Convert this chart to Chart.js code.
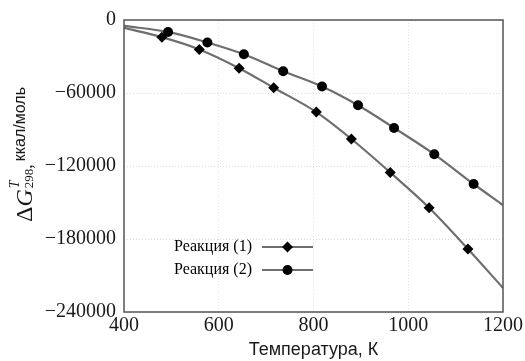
<!DOCTYPE html>
<html>
<head>
<meta charset="utf-8">
<script src="https://cdn.jsdelivr.net/npm/chart.js@4/dist/chart.umd.min.js"></script>
<style>
  html, body { margin: 0; padding: 0; background: #fff; }
  #wrap { width: 525px; height: 361px; position: relative; }
</style>
</head>
<body>
<div id="wrap"><canvas id="c"></canvas></div>
<script>
// Gibbs energy change vs temperature for two reactions
const temps1 = [400, 480, 559, 643, 716, 806, 880, 962, 1044, 1126, 1200];
const dG1    = [-6500, -14100, -24200, -39600, -55700, -75700, -97800, -125300, -154300, -188200, -220200];
const temps2 = [400, 493, 576, 653, 736, 818, 894, 970, 1055, 1138, 1200];
const dG2    = [-4900, -9800, -18500, -28200, -42100, -54700, -70100, -88700, -110400, -134800, -152100];
const xTicks = [400, 600, 800, 1000, 1200];
const yTicks = [0, -60000, -120000, -180000, -240000];
const seriesLabels = ['Реакция (1)', 'Реакция (2)'];
const xTitle = 'Температура, К';
const yUnits = 'ккал/моль';

const LINE = '#6e6e6e';
const INK = '#1a1a1a';
const SERIF = '"Liberation Serif", "DejaVu Serif", serif';
const SANS = '"Liberation Sans", Arial, sans-serif';

function pairs(xs, ys) { return xs.map((x, i) => ({ x: x, y: ys[i] })); }
// endpoints carry the curve only, no marker
function radii(n, r) { return Array.from({ length: n }, (_, i) => (i === 0 || i === n - 1) ? 0 : r); }
function fmt(v) { return v < 0 ? '\u2212' + Math.abs(v) : String(v); }

const framePlugin = {
  id: 'frameAndLabels',
  afterDraw(chart) {
    const ctx = chart.ctx;
    const a = chart.chartArea;
    ctx.save();
    // plot frame
    ctx.strokeStyle = '#555';
    ctx.lineWidth = 1.5;
    ctx.strokeRect(a.left, a.top, a.right - a.left, a.bottom - a.top);

    // legend inside the plot
    const rows = [247, 270];
    chart.data.datasets.forEach((ds, i) => {
      const y = rows[i];
      ctx.fillStyle = '#000';
      ctx.font = '16px ' + SERIF;
      ctx.textAlign = 'left';
      ctx.textBaseline = 'middle';
      ctx.fillText(ds.label, 174, y);
      ctx.strokeStyle = LINE;
      ctx.lineWidth = 2.2;
      ctx.beginPath();
      ctx.moveTo(262, y); ctx.lineTo(313, y);
      ctx.stroke();
      ctx.fillStyle = '#000';
      ctx.beginPath();
      const cx = 287.5, r = ds.pointRadius[1];
      if (ds.pointStyle === 'rectRot') {
        ctx.moveTo(cx - r, y); ctx.lineTo(cx, y - r); ctx.lineTo(cx + r, y); ctx.lineTo(cx, y + r);
        ctx.closePath();
      } else {
        ctx.arc(cx, y, r, 0, Math.PI * 2);
      }
      ctx.fill();
    });

    // y-axis title: ΔG^T_298, ккал/моль (rotated)
    ctx.translate(32, 222);
    ctx.rotate(-Math.PI / 2);
    ctx.textAlign = 'left';
    ctx.textBaseline = 'alphabetic';
    ctx.fillStyle = INK;
    let x = 0;
    ctx.font = '24px ' + SERIF;
    ctx.fillText('\u0394', x, 0); x += ctx.measureText('\u0394').width;
    ctx.font = 'italic 24px ' + SERIF;
    ctx.fillText('G', x, 0); x += ctx.measureText('G').width + 1;
    ctx.font = 'italic 14px ' + SERIF;
    ctx.fillText('T', x, -13);
    ctx.font = '13px ' + SERIF;
    ctx.fillText('298', x, 1); x += ctx.measureText('298').width;
    ctx.font = '18px ' + SERIF;
    ctx.fillText(',', x, 0); x += ctx.measureText(',').width + 3;
    ctx.font = '16px ' + SANS;
    ctx.fillText(yUnits, x, -7);
    ctx.restore();
  }
};

new Chart(document.getElementById('c'), {
  type: 'line',
  data: {
    datasets: [
      {
        label: seriesLabels[0],
        data: pairs(temps1, dG1),
        borderColor: LINE,
        borderWidth: 2.2,
        pointStyle: 'rectRot',
        pointRadius: radii(temps1.length, 5.5),
        pointBackgroundColor: '#000',
        pointBorderWidth: 0,
        cubicInterpolationMode: 'monotone',
        fill: false
      },
      {
        label: seriesLabels[1],
        data: pairs(temps2, dG2),
        borderColor: LINE,
        borderWidth: 2.2,
        pointStyle: 'circle',
        pointRadius: radii(temps2.length, 5),
        pointBackgroundColor: '#000',
        pointBorderWidth: 0,
        cubicInterpolationMode: 'monotone',
        fill: false
      }
    ]
  },
  options: {
    responsive: true,
    maintainAspectRatio: false,
    animation: false,
    layout: { padding: { left: 0, right: 22, top: 17, bottom: 0 } },
    plugins: { legend: { display: false }, tooltip: { enabled: false } },
    scales: {
      x: {
        type: 'linear',
        min: xTicks[0], max: xTicks[xTicks.length - 1],
        afterBuildTicks(s) { s.ticks = xTicks.map(v => ({ value: v })); },
        afterFit(s) { s.height = 49; },
        ticks: { color: INK, font: { family: SERIF, size: 20 }, padding: 2, maxRotation: 0, callback: v => fmt(v) },
        grid: { color: '#e2e2e2', lineWidth: 1, drawTicks: false },
        border: { display: false, dash: [1, 2] },
        title: { display: true, text: xTitle, color: INK, font: { family: SANS, size: 18 }, padding: { top: 0, bottom: 0 } }
      },
      y: {
        type: 'linear',
        min: yTicks[yTicks.length - 1], max: yTicks[0],
        afterBuildTicks(s) { s.ticks = yTicks.slice().reverse().map(v => ({ value: v })); },
        afterFit(s) { s.width = 124; },
        ticks: { color: INK, font: { family: SERIF, size: 20 }, padding: 8, callback: v => fmt(v) },
        grid: { color: '#dcdcdc', lineWidth: 1, drawTicks: false },
        border: { display: false, dash: [1, 2] }
      }
    }
  },
  plugins: [framePlugin]
});
</script>
</body>
</html>
